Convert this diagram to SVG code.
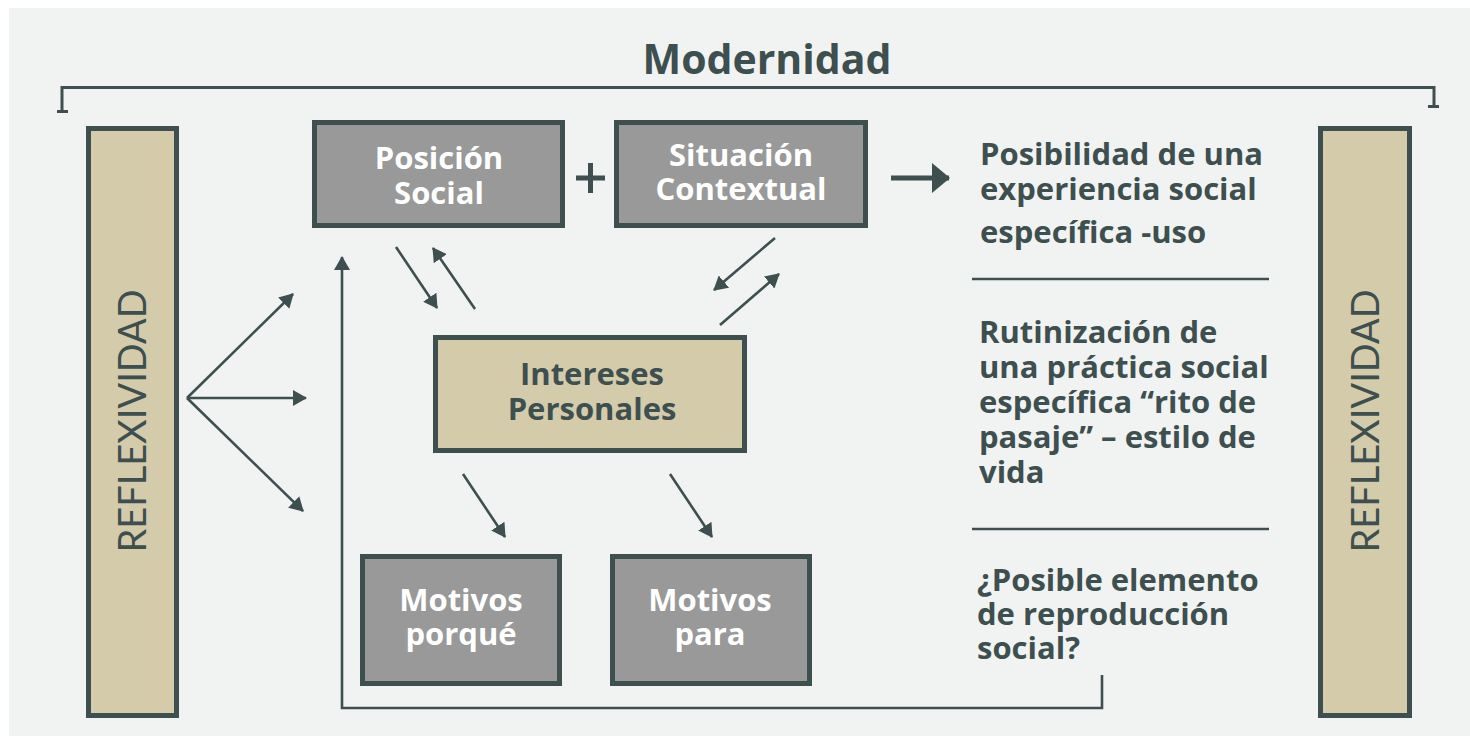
<svg xmlns="http://www.w3.org/2000/svg" width="1470" height="736" viewBox="0 0 1470 736">
<defs>
<marker id="ah" viewBox="0 0 14 16" refX="13" refY="8" markerWidth="14" markerHeight="16" markerUnits="userSpaceOnUse" orient="auto">
<path d="M0,0 L14,8 L0,16 Z" fill="#3d4f4f"/>
</marker>
<marker id="ahBig" viewBox="0 0 18 30" refX="17" refY="15" markerWidth="18" markerHeight="30" markerUnits="userSpaceOnUse" orient="auto">
<path d="M0,0 L18,15 L0,30 Z" fill="#3d4f4f"/>
</marker>
<style>
.box{stroke:#3d4f4f;stroke-width:5}
.gray{fill:#989998}
.tan{fill:#d4cbab}
.wt{font-family:"Open Sans","Liberation Sans",sans-serif;font-weight:bold;font-size:31px;fill:#ffffff;text-anchor:middle}
.dt{font-family:"Open Sans","Liberation Sans",sans-serif;font-weight:bold;font-size:31px;fill:#3d4f4f;text-anchor:middle}
.rt{font-family:"Open Sans","Liberation Sans",sans-serif;font-weight:bold;font-size:31px;fill:#3d4f4f}
.vt{font-family:Lato,"Liberation Sans",sans-serif;font-size:38px;fill:#3d4f4f;text-anchor:middle}
.ln{stroke:#3d4f4f;stroke-width:2.6;fill:none}
</style>
</defs>
<rect x="0" y="0" width="1470" height="736" fill="#ffffff"/>
<rect x="9" y="8" width="1461" height="728" fill="#f1f3f2"/>

<g id="title">
<text x="767" y="74" font-family="'Open Sans','Liberation Sans',sans-serif" font-weight="bold" font-size="41" fill="#3d4f4f" text-anchor="middle">Modernidad</text>
<path d="M62,111 V87.5 H1434 V106" fill="none" stroke="#3d4f4f" stroke-width="3"/>
<rect x="57" y="110" width="11" height="3" fill="#3d4f4f"/>
<rect x="1428" y="105" width="11" height="3" fill="#3d4f4f"/>
</g>

<g id="reflexividad-left">
<rect class="box tan" x="88.5" y="128.5" width="88" height="587"/>
<text class="vt" transform="translate(146,421) rotate(-90)">REFLEXIVIDAD</text>
</g>
<g id="reflexividad-right">
<rect class="box tan" x="1320.5" y="128.5" width="89" height="587"/>
<text class="vt" transform="translate(1379,421) rotate(-90)">REFLEXIVIDAD</text>
</g>

<g id="posicion-social">
<rect class="box gray" x="314.5" y="122.5" width="248" height="103"/>
<text class="wt"><tspan x="439" y="169">Posición</tspan><tspan x="439" y="204">Social</tspan></text>
</g>
<g id="plus">
<path d="M576,178 H605 M590.5,163 V193" stroke="#3d4f4f" stroke-width="5"/>
</g>
<g id="situacion-contextual">
<rect class="box gray" x="616.5" y="122.5" width="249" height="103"/>
<text class="wt"><tspan x="741" y="166">Situación</tspan><tspan x="741" y="200">Contextual</tspan></text>
</g>
<g id="intereses-personales">
<rect class="box tan" x="435.5" y="337.5" width="309" height="113"/>
<text class="dt"><tspan x="592" y="385">Intereses</tspan><tspan x="592" y="420">Personales</tspan></text>
</g>
<g id="motivos-porque">
<rect class="box gray" x="362.5" y="556.5" width="197" height="127"/>
<text class="wt"><tspan x="461" y="611">Motivos</tspan><tspan x="461" y="645">porqué</tspan></text>
</g>
<g id="motivos-para">
<rect class="box gray" x="612.5" y="556.5" width="197" height="127"/>
<text class="wt"><tspan x="710" y="611">Motivos</tspan><tspan x="710" y="645">para</tspan></text>
</g>

<g id="resultados">
<text class="rt"><tspan x="980" y="165">Posibilidad de una</tspan><tspan x="980" y="200">experiencia social</tspan><tspan x="980" y="243">específica -uso</tspan></text>
<line class="ln" x1="972" y1="279" x2="1269" y2="279"/>
<text class="rt"><tspan x="979" y="343">Rutinización de</tspan><tspan x="979" y="378">una práctica social</tspan><tspan x="979" y="413">específica “rito de</tspan><tspan x="979" y="448">pasaje” – estilo de</tspan><tspan x="979" y="483">vida</tspan></text>
<line class="ln" x1="972" y1="529" x2="1269" y2="529"/>
<text class="rt"><tspan x="977" y="591">¿Posible elemento</tspan><tspan x="977" y="625">de reproducción</tspan><tspan x="977" y="659">social?</tspan></text>
</g>

<g id="connectors">
<line class="ln" x1="187" y1="398" x2="293" y2="294" marker-end="url(#ah)"/>
<line class="ln" x1="187" y1="398" x2="306" y2="398" marker-end="url(#ah)"/>
<line class="ln" x1="187" y1="398" x2="303" y2="511" marker-end="url(#ah)"/>
<line class="ln" x1="396" y1="247" x2="437" y2="308" marker-end="url(#ah)"/>
<line class="ln" x1="475" y1="309" x2="433" y2="248" marker-end="url(#ah)"/>
<line class="ln" x1="775" y1="238" x2="714" y2="290" marker-end="url(#ah)"/>
<line class="ln" x1="720" y1="325" x2="779" y2="274" marker-end="url(#ah)"/>
<line class="ln" x1="463" y1="474" x2="505" y2="537" marker-end="url(#ah)"/>
<line class="ln" x1="670" y1="474" x2="712" y2="537" marker-end="url(#ah)"/>
<line x1="891" y1="178" x2="949" y2="178" stroke="#3d4f4f" stroke-width="5" marker-end="url(#ahBig)"/>
<path class="ln" d="M1102,675 V708 H342 V257" marker-end="url(#ah)"/>
</g>
</svg>
